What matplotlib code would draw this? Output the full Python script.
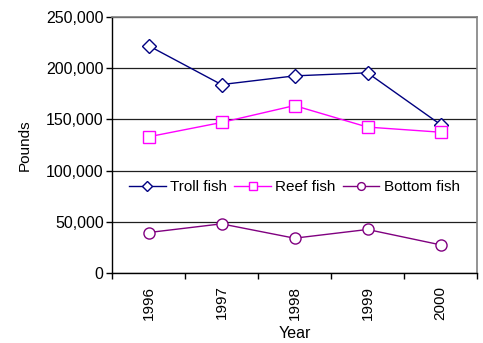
import matplotlib
matplotlib.use('Agg')
import matplotlib.pyplot as plt
from matplotlib.ticker import FuncFormatter, FixedLocator

plt.rcParams['font.family'] = ['Liberation Sans', 'DejaVu Sans']

years = ['1996', '1997', '1998', '1999', '2000']
troll = [222000, 184000, 192500, 195500, 145000]
reef = [133000, 147000, 163500, 142500, 137500]
bottom = [39500, 48000, 34000, 42500, 27500]

fig = plt.figure(figsize=(4.83, 3.43), dpi=100)
ax = fig.add_axes([112 / 483, 1 - 273 / 343, 365 / 483, 256 / 343])

x = list(range(len(years)))
ax.plot(x, troll, '-', color='#000080', lw=1.0, marker='D', ms=7,
        mfc='white', mec='#000080', mew=1.0, label='Troll fish')
ax.plot(x, reef, '-', color='#FF00FF', lw=1.0, marker='s', ms=8,
        mfc='white', mec='#FF00FF', mew=1.0, label='Reef fish')
ax.plot(x, bottom, '-', color='#800080', lw=1.0, marker='o', ms=8,
        mfc='white', mec='#800080', mew=1.0, label='Bottom fish')

ax.set_xlim(-0.5, len(years) - 0.5)
ax.set_ylim(0, 250000)
ax.set_yticks(range(0, 250001, 50000))
ax.yaxis.set_major_formatter(FuncFormatter(lambda v, p: '{:,.0f}'.format(v)))
# category boundaries get the tick marks, labels sit at the centres
ax.xaxis.set_major_locator(FixedLocator([i - 0.5 for i in range(len(years) + 1)]))
ax.xaxis.set_minor_locator(FixedLocator(x))
ax.set_xticklabels([])
ax.set_xticklabels(years, minor=True, rotation=90)
ax.tick_params(axis='x', which='minor', length=0, pad=9, labelsize=11)
ax.tick_params(axis='x', which='major', length=4, direction='out', width=1)
ax.tick_params(axis='y', length=4, direction='out', width=1, labelsize=11.5, pad=2)

ax.grid(axis='y', color='#202020', lw=0.9)
ax.set_axisbelow(True)
for s in ['left', 'bottom']:
    ax.spines[s].set_color('black')
    ax.spines[s].set_linewidth(1.0)
for s in ['top', 'right']:
    ax.spines[s].set_color('#808080')
    ax.spines[s].set_linewidth(1.2)

ax.set_ylabel('Pounds', fontsize=11, labelpad=10)
ax.set_xlabel('Year', fontsize=11.5, labelpad=5)

ax.legend(loc='center', bbox_to_anchor=(0.5, 0.335),
          ncol=3, frameon=False, fontsize=11, handlelength=2.4,
          columnspacing=0.45, handletextpad=0.3, markerscale=0.7,
          borderaxespad=0)

fig.savefig('out.png', dpi=100)
